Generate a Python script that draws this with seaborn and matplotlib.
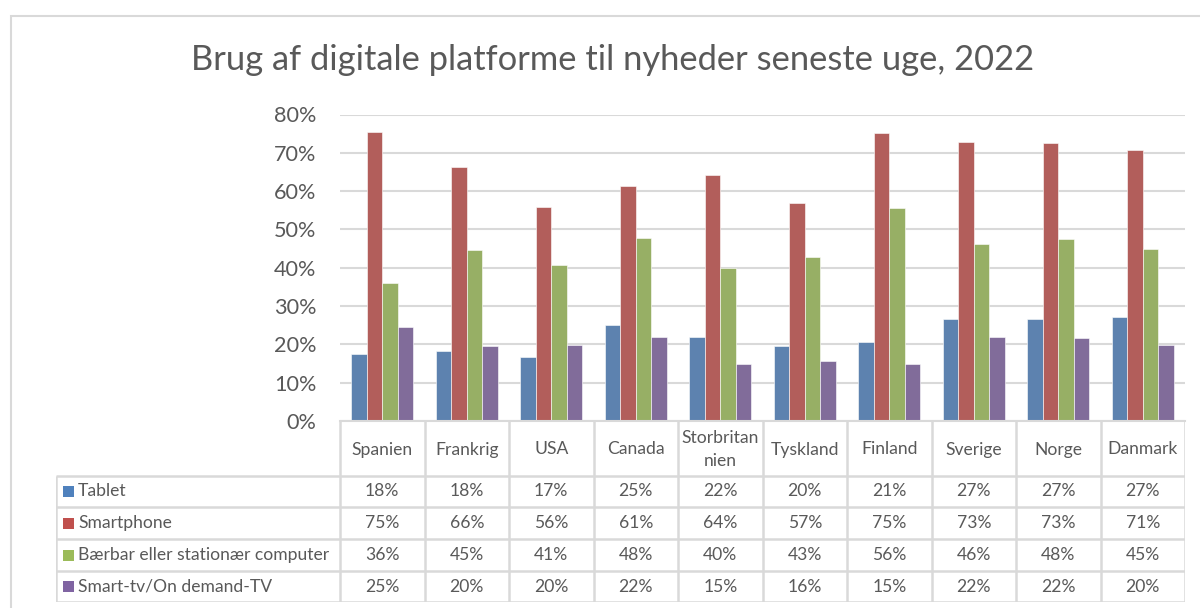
import matplotlib
matplotlib.use("Agg")
import matplotlib.pyplot as plt
import seaborn as sns
import pandas as pd
from matplotlib.patches import Rectangle
from matplotlib.ticker import PercentFormatter

# ---- data ----
countries = ["Spanien", "Frankrig", "USA", "Canada", "Storbritannien",
             "Tyskland", "Finland", "Sverige", "Norge", "Danmark"]
header_labels = ["Spanien", "Frankrig", "USA", "Canada", "Storbritan\nnien",
                 "Tyskland", "Finland", "Sverige", "Norge", "Danmark"]
series = ["Tablet", "Smartphone", "Bærbar eller stationær computer", "Smart-tv/On demand-TV"]
tablet = [17.6, 18.2, 16.6, 25.0, 22.0, 19.6, 20.6, 26.6, 26.6, 27.2]
smartphone = [75.4, 66.2, 55.8, 61.4, 64.3, 57.0, 75.3, 72.8, 72.6, 70.8]
computer = [35.9, 44.6, 40.8, 47.8, 39.9, 42.7, 55.6, 46.2, 47.6, 44.8]
smart_tv = [24.6, 19.6, 19.9, 21.8, 14.9, 15.6, 14.9, 21.8, 21.7, 19.8]
title = "Brug af digitale platforme til nyheder seneste uge, 2022"
yticks = [0, 10, 20, 30, 40, 50, 60, 70, 80]

colors = ["#4F81BD", "#C0504D", "#9BBB59", "#8064A2"]
values = [tablet, smartphone, computer, smart_tv]

rows = []
for s, vals in zip(series, values):
    for c, v in zip(countries, vals):
        rows.append({"Land": c, "Platform": s, "Andel": v})
df = pd.DataFrame(rows)

sns.set_style("white")
plt.rcParams["font.family"] = ["Lato", "DejaVu Sans"]
TXT = "#595959"
GRID = "#D9D9D9"
FS_TABLE = 12.6

W, H = 1200, 608
fig = plt.figure(figsize=(W / 100, H / 100), dpi=100)

def fx(px):
    return px / W

def fy(py):
    return 1 - py / H

# outer chart border
fig.patches.append(Rectangle((fx(11), fy(640)), fx(1230) - fx(11), fy(16) - fy(640),
                             transform=fig.transFigure, fill=False,
                             edgecolor=GRID, linewidth=1.5))

# main plot axes
x0, x1, ytop, ybot = 340, 1185, 114.5, 421
ax = fig.add_axes([fx(x0), fy(ybot), fx(x1) - fx(x0), fy(ytop) - fy(ybot)])
sns.barplot(data=df, x="Land", y="Andel", hue="Platform", order=countries,
            hue_order=series, palette=colors, width=0.73, ax=ax,
            edgecolor="white", linewidth=0.4, legend=False, errorbar=None)
ax.set_xlim(-0.5, len(countries) - 0.5)
ax.set_ylim(0, 80)
ax.set_yticks(yticks)
ax.yaxis.set_major_formatter(PercentFormatter(decimals=0))
ax.tick_params(axis="y", length=0, labelsize=15.6, labelcolor=TXT, pad=17)
ax.set_xticks([])
ax.set_xlabel("")
ax.set_ylabel("")
ax.grid(axis="y", color=GRID, linewidth=1.5)
ax.set_axisbelow(True)
for side in ["left", "right", "top"]:
    ax.spines[side].set_visible(False)
ax.spines["bottom"].set_color(GRID)
ax.spines["bottom"].set_linewidth(1.5)

# data table axes (pixel-aligned to the category axis)
tl, tr, tt, tb = 56, 1185, 421, 602
col_w = (x1 - x0) / len(countries)
tax = fig.add_axes([fx(tl), fy(tb), fx(tr) - fx(tl), fy(tt) - fy(tb)])
tax.set_xlim(-0.5 - (x0 - tl) / col_w, len(countries) - 0.5)
tax.set_ylim(tb - tt, 0)
tax.axis("off")

row_lines = [476 - tt, 507 - tt, 539 - tt, 571 - tt, 602 - tt]
left = -0.5 - (x0 - tl) / col_w
lc = dict(color=GRID, linewidth=1.8, solid_capstyle="butt")
# vertical lines
for i in range(len(countries) + 1):
    tax.plot([i - 0.5, i - 0.5], [0, row_lines[-1]], **lc)
tax.plot([left, left], [row_lines[0], row_lines[-1]], **lc)
# horizontal lines
for r in row_lines:
    tax.plot([left, len(countries) - 0.5], [r, r], **lc)

# header labels
for i, lab in enumerate(header_labels):
    tax.text(i, (row_lines[0]) / 2 + 1, lab, ha="center", va="center",
             fontsize=FS_TABLE, color=TXT, linespacing=1.5)

# rows
for k, (s, vals, col) in enumerate(zip(series, values, colors)):
    yc = (row_lines[k] + row_lines[k + 1]) / 2
    tax.add_patch(Rectangle((left + 7 / col_w, yc - 5.5), 11 / col_w, 11,
                            facecolor=col, edgecolor="none"))
    tax.text(left + 22 / col_w, yc, s, ha="left", va="center",
             fontsize=FS_TABLE, color=TXT)
    for i, v in enumerate(vals):
        tax.text(i, yc, f"{v:.0f}%", ha="center", va="center",
                 fontsize=FS_TABLE, color=TXT)

# title
fig.text(fx(613), fy(60), title, ha="center", va="center",
         fontsize=24.8, color=TXT)

fig.savefig("out.png", dpi=100)
